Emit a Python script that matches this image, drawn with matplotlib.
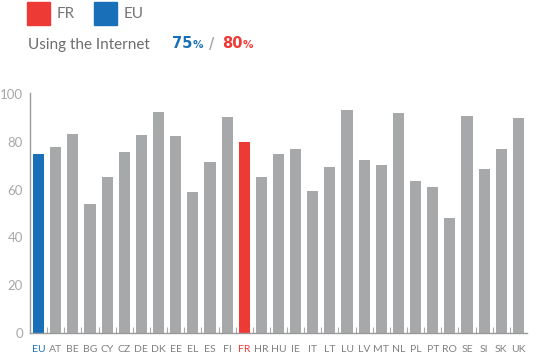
import numpy as np
import matplotlib.pyplot as plt
from matplotlib.patches import Rectangle

countries = ['EU', 'AT', 'BE', 'BG', 'CY', 'CZ', 'DE', 'DK', 'EE', 'EL', 'ES', 'FI', 'FR', 'HR', 'HU',
             'IE', 'IT', 'LT', 'LU', 'LV', 'MT', 'NL', 'PL', 'PT', 'RO', 'SE', 'SI', 'SK', 'UK']
values = [75, 78, 83.5, 54, 65.5, 76, 83, 92.5, 82.5, 59, 71.5, 90.5, 80, 65.5, 75,
          77, 59.5, 69.5, 93.5, 72.5, 70.5, 92, 63.5, 61, 48, 91, 68.5, 77, 90]
eu_value = 75
fr_value = 80

RED = '#ee3a35'
BLUE = '#1a70b8'
GREY = '#a7a8aa'

plt.rcParams['font.family'] = ['Lato', 'DejaVu Sans']

fig = plt.figure(figsize=(5.4, 3.61), dpi=100)
W, H = 540, 361
ax = fig.add_axes([30 / W, 28 / H, 497 / W, 240 / H])

colors = [BLUE if c == 'EU' else RED if c == 'FR' else GREY for c in countries]
x = np.arange(len(countries))
ax.bar(x, values, width=0.65, color=colors)

ax.set_xlim(-0.5, len(countries) - 0.5)
ax.set_ylim(0, 100.5)
ax.set_yticks(range(0, 101, 20))
ax.set_xticks(x)
ax.set_xticklabels(countries)
ax.set_xticks(x[:-1] + 0.5, minor=True)
ax.set_yticks([100], minor=True)
ax.tick_params(axis='both', which='major', length=0, colors='#999999')
ax.tick_params(axis='y', which='major', labelsize=9.5, pad=5, labelcolor='#a8a8a8')
ax.tick_params(axis='x', which='major', labelsize=7.5, pad=9, labelcolor='#808080')
ax.tick_params(axis='both', which='minor', direction='in', length=4, color='#aaaaaa', width=0.8)
for lab in ax.get_xticklabels():
    if lab.get_text() == 'EU':
        lab.set_color(BLUE)
    elif lab.get_text() == 'FR':
        lab.set_color(RED)
for s in ['top', 'right']:
    ax.spines[s].set_visible(False)
for s in ['left', 'bottom']:
    ax.spines[s].set_color('#9a9a9a')
    ax.spines[s].set_linewidth(1)


def fx(px):
    return px / W


def fy(py):
    return 1 - py / H


# legend
fig.patches.append(Rectangle((fx(27), fy(25)), 23 / W, 23 / H, color=RED, transform=fig.transFigure, figure=fig))
fig.text(fx(57), fy(14), 'FR', fontsize=11, color='#777777', va='center')
fig.patches.append(Rectangle((fx(94), fy(25)), 23 / W, 23 / H, color=BLUE, transform=fig.transFigure, figure=fig))
fig.text(fx(124), fy(14), 'EU', fontsize=11, color='#777777', va='center')

# headline
fig.text(fx(28), fy(45), 'Using the Internet', fontsize=11, color='#6d6d6d', va='center')
bold = dict(family='DejaVu Sans', fontweight='bold', va='center')
fig.text(fx(172), fy(44), f'{eu_value}', fontsize=10.5, color=BLUE, **bold)
fig.text(fx(193), fy(45), '%', fontsize=7.5, color=BLUE, **bold)
fig.text(fx(209), fy(44), '/', fontsize=10.5, color='#aaaaaa', **bold)
fig.text(fx(222), fy(44), f'{fr_value}', fontsize=10.5, color=RED, **bold)
fig.text(fx(243), fy(45), '%', fontsize=7.5, color=RED, **bold)

fig.savefig('out.png', dpi=100)
